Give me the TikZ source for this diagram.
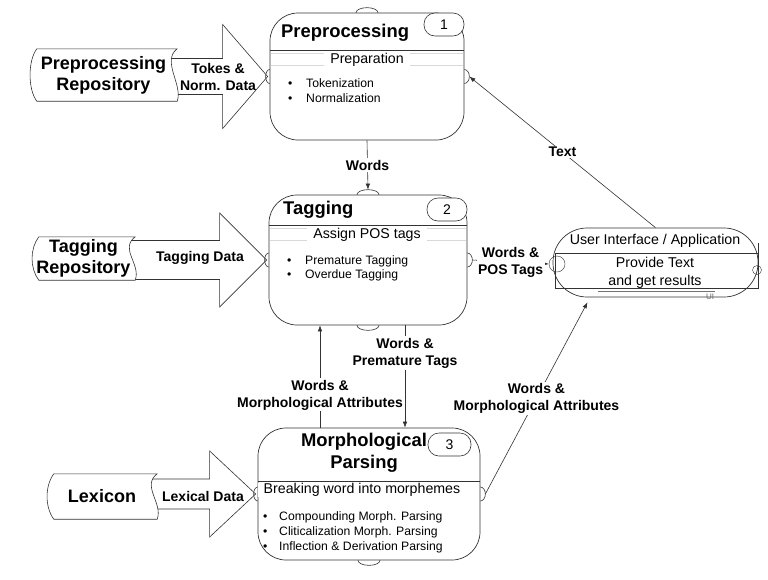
\documentclass[tikz,border=0pt]{standalone}
\usepackage{fontspec}
\setmainfont{Liberation Sans}
\usetikzlibrary{calc, arrows.meta}
\pgfdeclarelayer{back}
\pgfdeclarelayer{mid}
\pgfsetlayers{back,mid,main}

\tikzset{
  proc/.style={draw=black!80, fill=white, line width=0.7pt, rounded corners=28pt},
  badge/.style={draw=black!80, fill=white, line width=0.6pt, rounded corners=11pt,
    minimum width=40pt, minimum height=23pt, inner sep=0pt, font=\fontsize{14}{16}\selectfont},
  ttl/.style={inner sep=0pt, font=\fontsize{18.4}{22}\selectfont\bfseries},
  sub/.style={fill=white, inner xsep=6pt, inner ysep=0.5pt, font=\fontsize{14.2}{17}\selectfont},
  itm/.style={anchor=base west, inner sep=0pt, font=\fontsize{12.2}{15}\selectfont},
  uitxt/.style={inner sep=1pt, align=center, font=\fontsize{14.2}{18}\selectfont},
  lbl/.style={fill=white, inner sep=1.5pt, align=center, font=\fontsize{14}{17}\selectfont\bfseries},
  repo/.style={inner sep=0pt, align=center, font=\fontsize{18}{21}\selectfont\bfseries},
  hline/.style={draw=black!80, line width=0.6pt},
  faint/.style={draw=black!15, line width=0.6pt},
  bump/.style={draw=black!80, line width=0.6pt},
  blk/.style={draw=black!80, fill=white, line width=0.6pt},
  flow/.style={draw=black!80, line width=0.6pt, -{Latex[length=6pt,width=4.5pt]}},
}

\newcommand\bul{\makebox[18pt][l]{\textbullet}}
\newcommand\bulm{\makebox[16pt][l]{\textbullet}}

\newcommand\bumpN[1]{\draw[bump] ($(#1.north)+(-11,0)$) arc[start angle=180, end angle=0, x radius=11pt, y radius=5pt];}
\newcommand\bumpS[1]{\draw[bump] ($(#1.south)+(-11,0)$) arc[start angle=180, end angle=360, x radius=11pt, y radius=5pt];}
\newcommand\bumpW[1]{\draw[bump] ($(#1.west)+(0,-7)$) arc[start angle=90, end angle=270, x radius=4pt, y radius=7pt];}
\newcommand\bumpE[1]{\draw[bump] ($(#1.east)+(0,-7)$) arc[start angle=90, end angle=-90, x radius=5pt, y radius=7pt];}

% repository outline: round left side, wavy right side
\newcommand\reposhape[1]{%
  \draw[blk] ($(#1.north west)+(7,0)$) -- (#1.north east)
    .. controls ($(#1.north east)+(-16,12)$) and ($(#1.south east)+(6,-16)$) .. (#1.south east)
    -- ($(#1.south west)+(7,0)$)
    .. controls ($(#1.south west)+(-2,-12)$) and ($(#1.north west)+(-2,12)$) .. cycle;}

% block arrow: repository, process, body half, head half, head length
\newcommand\blockarrow[5]{%
  \draw[blk] let \p1=(#1.east), \p2=($(#2.west)+(-2,0)$) in
    (\x1-9,\y2+#3) -- (\x2-#5,\y2+#3) -- (\x2-#5,\y2+#4) -- (\p2)
    -- (\x2-#5,\y2-#4) -- (\x2-#5,\y2-#3) -- (\x1-9,\y2-#3) -- cycle;}

\begin{document}
\begin{tikzpicture}[x=1pt, y=-1pt]
\useasboundingbox (0,0) rectangle (768,579);
\begin{pgfonlayer}{back}
\fill[white] (0,0) rectangle (768,579);
\end{pgfonlayer}

\node[proc, minimum width=194pt, minimum height=127pt] (prep) at (367,76.5) {};
\node[proc, minimum width=198pt, minimum height=130pt] (tag) at (368,260) {};
\node[proc, minimum width=222pt, minimum height=132pt] (morph) at (369,494) {};
\node[proc, rounded corners=34pt, minimum width=205pt, minimum height=69pt] (ui) at (655.5,262.5) {};

% preprocessing
\draw[hline] (270,50) -- (464,50);
\draw[faint] (271,53) -- (463,53) (271,65) -- (463,65);
\node[ttl, anchor=west] (preptitle) at (281,33) {Preprocessing};
\node[badge] (prepnum) at (444,24.5) {1};
\node[sub] (prepsub) at (367,60) {Preparation};
\node[itm] (prepA) at (288,87.5) {\bul Tokenization};
\node[itm] (prepB) at (288,102.5) {\bul Normalization};

% tagging
\draw[hline] (269,225) -- (467,225);
\draw[faint] (270,228.5) -- (466,228.5) (270,240.5) -- (466,240.5);
\node[ttl, anchor=west] (tagtitle) at (283,210) {Tagging};
\node[badge] (tagnum) at (447,209.5) {2};
\node[sub] (tagsub) at (367,235) {Assign POS tags};
\node[itm] (tagA) at (287,264) {\bul Premature Tagging};
\node[itm] (tagB) at (287,278) {\bul Overdue Tagging};

% morphological parsing
\draw[hline] (258,481) -- (480,481);
\node[badge, minimum width=43pt] (morphnum) at (449.5,444.5) {3};
\node[ttl, align=center] (morphtitle) at (364,453) {Morphological\\Parsing};
\node[sub] (morphsub) at (362,490) {Breaking word into morphemes};
\node[itm] (morphA) at (263,520) {\bulm Compounding Morph. Parsing};
\node[itm] (morphB) at (263,535) {\bulm Cliticalization Morph. Parsing};
\node[itm] (morphC) at (263,550) {\bulm Inflection \& Derivation Parsing};

% user interface
\draw[hline] (555,253) -- (758,253);
\draw[hline] (555,253) -- (555,288) -- (758,288) -- (758,243);
\node[uitxt] (uihead) at (655,241) {User Interface / Application};
\node[uitxt] (uibody) at (655,273) {Provide Text\\and get results};
\draw[black!55, line width=1.3pt] (598,291.5) -- (715,291.5);
\node[inner sep=0pt, text=black!60, font=\fontsize{8}{9}\selectfont] (uiname) at (710,297) {UI};
\node[draw=black!80, circle, minimum size=16pt, inner sep=0pt] (uiin) at (557,264) {};
\node[draw=black!80, circle, minimum size=9pt, inner sep=0pt] (uiout) at (757,270) {};

\bumpN{prep} \bumpW{prep} \bumpE{prep}
\bumpN{tag} \bumpS{tag} \bumpW{tag} \bumpE{tag}
\bumpS{morph} \bumpW{morph} \bumpE{morph}

% repositories
\node[repo, minimum width=147pt, minimum height=52pt] (preprepo) at (103.5,75) {Preprocessing\\Repository};
\node[repo, minimum width=103pt, minimum height=43pt] (tagrepo) at (83.5,258.5) {Tagging\\Repository};
\node[repo, minimum width=110pt, minimum height=45pt] (lexrepo) at (102,496.5) {Lexicon};
\begin{pgfonlayer}{mid}
\reposhape{preprepo} \reposhape{tagrepo} \reposhape{lexrepo}
\end{pgfonlayer}
\begin{pgfonlayer}{back}
\blockarrow{preprepo}{prep}{18}{52}{45}
\blockarrow{tagrepo}{tag}{19.5}{47}{47}
\blockarrow{lexrepo}{morph}{15}{43}{46}
\end{pgfonlayer}
\node[lbl, fill=none] (prepdata) at (218,77) {Tokes \&\\Norm. Data};
\node[lbl, fill=none] (tagdata) at (200,258) {Tagging Data};
\node[lbl, fill=none] (lexdata) at (203,496) {Lexical Data};

% flows
\coordinate (colL) at (320,0);
\coordinate (colR) at (405,0);
\coordinate (uibottom) at ($(ui.south)+(-68,5)$);
\draw[flow] (prep.south) -- node[lbl] (wordsA) {Words} ($(tag.north)+(0,-5)$);
\draw[flow] (tag.south -| colR) -- node[lbl, pos=0.27] (wordsB) {Words \&\\Premature Tags} (morph.north -| colR);
\draw[flow] (morph.north -| colL) -- node[lbl, pos=0.32] (wordsC) {Words \&\\Morphological Attributes} (tag.south -| colL);
\draw[flow] ($(tag.east)+(5,0)$) -- node[lbl] (wordsD) {Words \&\\POS Tags} (uiin.west);
\draw[flow] (ui.north) -- node[lbl] (textin) {Text} ($(prep.east)+(5,0)$);
\draw[flow] ($(morph.east)+(5,0)$) -- node[lbl] (wordsE) {Words \&\\Morphological Attributes} (uibottom);
\end{tikzpicture}
\end{document}
